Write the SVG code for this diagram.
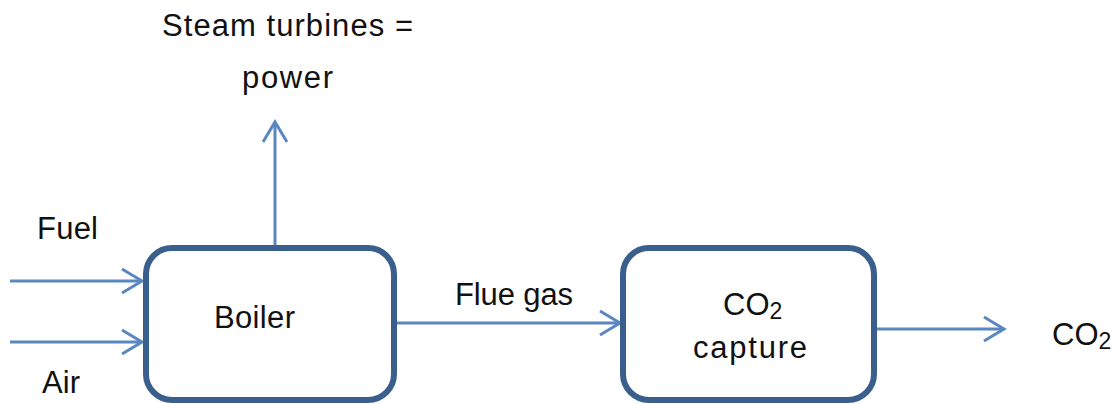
<svg xmlns="http://www.w3.org/2000/svg" width="1112" height="404" viewBox="0 0 1112 404">
<style>
.box{fill:#fff;stroke:#3B5F8D;stroke-width:6}
.ln{fill:none;stroke:#5A87C0;stroke-width:3}
.ah{fill:none;stroke:#5A87C0;stroke-width:3;stroke-linejoin:miter}
text{font-family:"Liberation Sans",Arial,sans-serif;font-size:31px;fill:#111}
.sub{font-size:23px}
</style>
<rect width="1112" height="404" fill="#fff"/>
<g id="connectors">
<line class="ln" x1="10" y1="281" x2="142" y2="281"/>
<polyline class="ah" points="122,269 142,281 122,293"/>
<line class="ln" x1="10" y1="342" x2="142" y2="342"/>
<polyline class="ah" points="122,330 142,342 122,354"/>
<line class="ln" x1="275" y1="245" x2="275" y2="122"/>
<polyline class="ah" points="263,142 275,122 287,142"/>
<line class="ln" x1="397" y1="323" x2="620" y2="323"/>
<polyline class="ah" points="600,311 620,323 600,335"/>
<line class="ln" x1="877" y1="329" x2="1004" y2="329"/>
<polyline class="ah" points="984,317 1004,329 984,341"/>
</g>
<g id="boiler">
<rect class="box" x="146" y="248" width="248" height="152" rx="26"/>
<text x="214" y="328" textLength="81">Boiler</text>
</g>
<g id="capture">
<rect class="box" x="623" y="248" width="251" height="152" rx="26"/>
<text x="723" y="315">CO<tspan class="sub" dy="4">2</tspan></text>
<text x="693" y="358" textLength="114">capture</text>
</g>
<g id="labels">
<text x="162" y="36" textLength="251">Steam turbines =</text>
<text x="242" y="88" textLength="91">power</text>
<text x="37" y="239" textLength="61">Fuel</text>
<text x="42" y="393" textLength="38">Air</text>
<text x="455" y="305" textLength="118">Flue gas</text>
<text x="1052" y="345">CO<tspan class="sub" dy="4">2</tspan></text>
</g>
</svg>
